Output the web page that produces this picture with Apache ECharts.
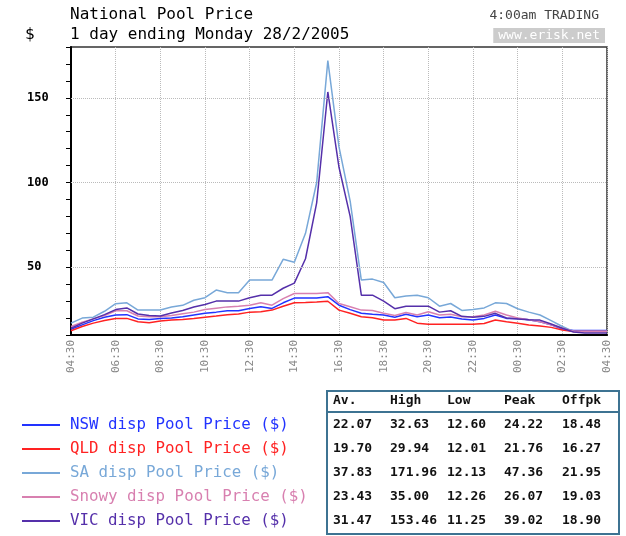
<!DOCTYPE html>
<html>
<head>
<meta charset="utf-8">
<title>National Pool Price</title>
<script src="https://cdn.jsdelivr.net/npm/echarts@6/dist/echarts.min.js"></script>
<style>
  html, body { margin: 0; padding: 0; background: #fff; }
  #chart { width: 626px; height: 536px; }
</style>
</head>
<body>
<div id="chart"></div>
<script>
// half hourly trading intervals, 04:30 -> 04:30 next day
var times = ["04:30","05:00","05:30","06:00","06:30","07:00","07:30","08:00","08:30","09:00",
  "09:30","10:00","10:30","11:00","11:30","12:00","12:30","13:00","13:30","14:00",
  "14:30","15:00","15:30","16:00","16:30","17:00","17:30","18:00","18:30","19:00",
  "19:30","20:00","20:30","21:00","21:30","22:00","22:30","23:00","23:30","00:00",
  "00:30","01:00","01:30","02:00","02:30","03:00","03:30","04:00","04:30"];

var nsw = [13.4,16,18.5,20.5,21.8,22,19.5,19.2,19.8,20,
  20.8,21.8,22.8,23.5,24.3,24.3,25.7,26.7,25.7,29,
  31.8,31.8,31.8,32.63,27.6,25,22.8,22.2,21.8,20.5,
  22.2,20.8,21.8,20.2,20.6,19.5,18.8,19.8,21.8,19.8,
  19.8,19,17.8,16,13.5,12.6,12.6,12.6,12.6];

var qld = [12.5,15,17,18.5,19.8,19.8,17.8,17.3,18.2,18.8,
  19.2,19.8,20.5,21.2,22,22.4,23.5,23.7,24.7,27,
  29,29.2,29.5,29.94,24.7,22.8,20.8,20.2,18.8,18.8,
  19.8,17,16.3,16.3,16.3,16.3,16.3,16.8,18.8,17.8,
  16.9,15.9,15.3,14.5,13,12.01,12.01,12.01,12.01];

var sa = [17,20,20.5,24,28.5,29,24.7,24.7,24.7,26.5,
  27.5,30.5,32,36.5,35,35,42.4,42.4,42.4,54.7,
  53,70,100,171.96,121,89,42.4,43,41,32,
  33,33.5,32,27,28.6,24.5,25,26,29,28.6,
  25.5,23.5,21.8,18.5,15,12.13,12.13,12.13,12.13];

var snowy = [15,17.5,19.5,21.5,24.3,24.3,21.2,20.8,20.8,21.5,
  22.5,23.5,25,25.8,26.6,27,27.6,29,27.6,31.5,
  34.5,34.5,34.5,35,28.6,26.7,24.7,24.5,22.8,21.5,
  23.3,21.8,23.7,21.8,22.2,20.8,20.8,21.8,24,21.8,
  20,19,17.8,16,14,12.26,12.26,12.26,12.26];

var vic = [14,17,19.5,22,25,26,22.4,21.5,21.2,23,
  24.5,26.5,28,30,30,30,32,33.5,33.5,37.6,
  40.6,55,88,153.46,109,80,33.5,33.5,30,25.5,
  27,27,27,23.5,24.3,21,20.5,21,22.8,20,
  19.5,19,18.8,16.5,14,11.8,11.25,11.25,11.25];

var seriesNames = ["NSW disp Pool Price ($)", "QLD disp Pool Price ($)", "SA disp Pool Price ($)",
  "Snowy disp Pool Price ($)", "VIC disp Pool Price ($)"];
var seriesColors = ["#2233ff", "#ff2222", "#78a8d8", "#d880b0", "#5530aa"];

var yLabels = [50, 100, 150];

// summary table
var statHeaders = ["Av.", "High", "Low", "Peak", "Offpk"];
var statRows = [
  ["22.07", "32.63", "12.60", "24.22", "18.48"],
  ["19.70", "29.94", "12.01", "21.76", "16.27"],
  ["37.83", "171.96", "12.13", "47.36", "21.95"],
  ["23.43", "35.00", "12.26", "26.07", "19.03"],
  ["31.47", "153.46", "11.25", "39.02", "18.90"]
];

var mono = "DejaVu Sans Mono";
var myChart = echarts.init(document.getElementById("chart"));

var allData = [nsw, qld, sa, snowy, vic];
var series = allData.map(function (d, i) {
  var s = {
    name: seriesNames[i],
    type: "line",
    data: d,
    symbol: "none",
    color: seriesColors[i],
    lineStyle: { width: 1.5, color: seriesColors[i] },
    animation: false
  };
  if (i === 0) {
    // dotted horizontal grid at labelled values
    s.markLine = {
      silent: true,
      symbol: "none",
      label: { show: false },
      lineStyle: { type: "dotted", color: "#bbbbbb", width: 1 },
      data: yLabels.map(function (v) { return { yAxis: v }; })
    };
  }
  return s;
});

// table drawn with graphic
var tableX = 327, tableY = 391, colX = [6, 63, 120, 177, 235];
var tableEls = [
  { type: "rect", shape: { x: tableX, y: tableY, width: 292, height: 143 },
    style: { fill: "#fff", stroke: "#3d7392", lineWidth: 2 } },
  { type: "line", shape: { x1: tableX, y1: 412, x2: tableX + 292, y2: 412 },
    style: { stroke: "#3d7392", lineWidth: 2 } }
];
statHeaders.forEach(function (h, c) {
  tableEls.push({ type: "text", x: tableX + colX[c], y: 401,
    style: { text: h, font: "bold 13px " + mono, fill: "#111", verticalAlign: "middle" } });
});
statRows.forEach(function (row, r) {
  row.forEach(function (v, c) {
    tableEls.push({ type: "text", x: tableX + colX[c], y: 425 + r * 24,
      style: { text: v, font: "bold 13px " + mono, fill: "#111", verticalAlign: "middle" } });
  });
});

var option = {
  backgroundColor: "#fff",
  title: [
    { text: "National Pool Price", left: 70, top: 7, padding: 0,
      textStyle: { fontFamily: mono, fontSize: 16, fontWeight: "normal", color: "#000" } },
    { text: "1 day ending Monday 28/2/2005", left: 70, top: 27, padding: 0,
      textStyle: { fontFamily: mono, fontSize: 16, fontWeight: "normal", color: "#000" } },
    { text: "$", left: 25, top: 27, padding: 0,
      textStyle: { fontFamily: mono, fontSize: 16, fontWeight: "normal", color: "#000" } },
    { text: "4:00am TRADING", right: 27, top: 9, padding: 0,
      textStyle: { fontFamily: mono, fontSize: 13, fontWeight: "normal", color: "#444" } },
    { text: "www.erisk.net", right: 21, top: 28, padding: [1, 5, 1, 5], backgroundColor: "#cccccc",
      textStyle: { fontFamily: mono, fontSize: 13, fontWeight: "normal", color: "#fff" } }
  ],
  legend: {
    orient: "vertical",
    left: 17,
    top: 412,
    icon: "rect",
    itemWidth: 38,
    itemHeight: 2,
    itemGap: 8,
    selectedMode: false,
    textStyle: { fontFamily: mono, fontSize: 15.8, padding: [0, 0, 0, 5] },
    data: seriesNames.map(function (n, i) {
      return { name: n, textStyle: { color: seriesColors[i] } };
    })
  },
  grid: {
    show: true,
    left: 71,
    right: 19,
    top: 47,
    bottom: 201,
    borderColor: "#333",
    borderWidth: 1.5,
    containLabel: false
  },
  xAxis: {
    type: "category",
    data: times,
    boundaryGap: false,
    axisLine: { lineStyle: { color: "#000", width: 2 } },
    axisTick: { show: false },
    axisLabel: {
      interval: 3,
      rotate: 90,
      margin: 5,
      color: "#888",
      fontFamily: mono,
      fontSize: 11
    },
    splitLine: {
      show: true,
      interval: 3,
      lineStyle: { type: "dotted", color: "#bbbbbb" }
    }
  },
  yAxis: {
    type: "value",
    min: 10,
    max: 180,
    interval: 10,
    axisLine: { show: true, lineStyle: { color: "#000", width: 2 } },
    axisTick: { show: true, length: 5, lineStyle: { color: "#000" } },
    axisLabel: {
      margin: 44,
      align: "left",
      color: "#000",
      fontFamily: mono,
      fontWeight: "bold",
      fontSize: 12,
      formatter: function (v) { return yLabels.indexOf(v) >= 0 ? String(v) : ""; }
    },
    splitLine: { show: false }
  },
  graphic: tableEls,
  series: series
};
myChart.setOption(option);
</script>
</body>
</html>
